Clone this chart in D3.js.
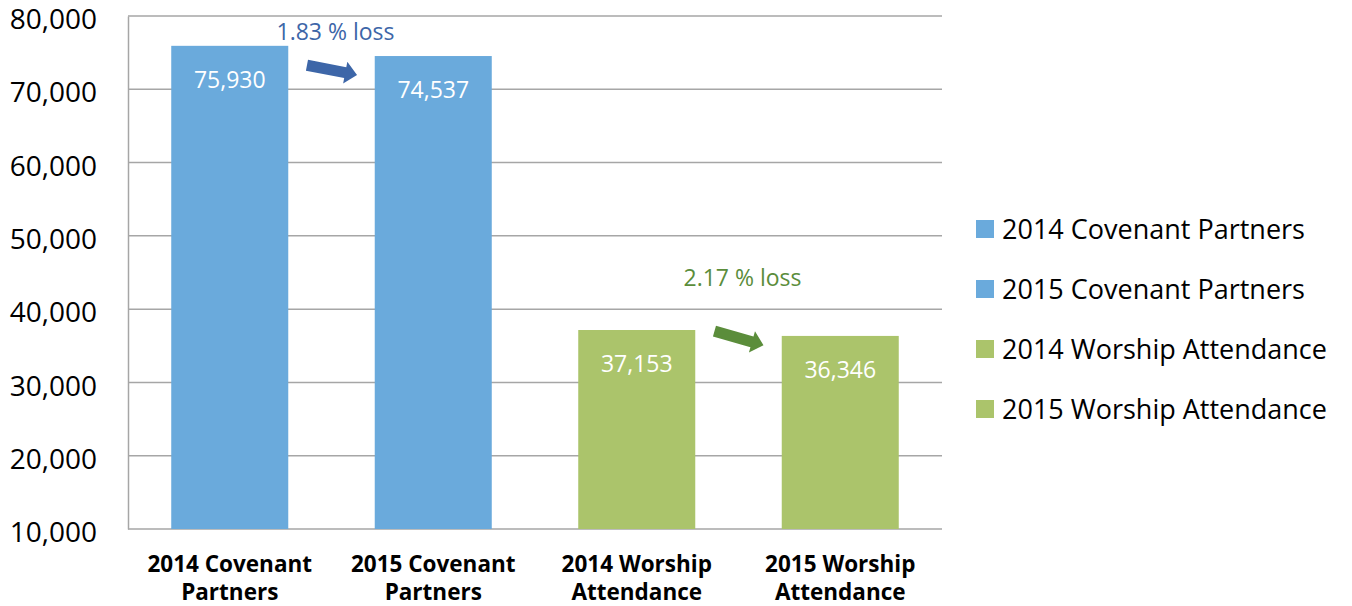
<!DOCTYPE html>
<html>
<head>
<meta charset="utf-8">
<script src="https://cdn.jsdelivr.net/npm/d3@7"></script>
<style>
    body { margin: 0; background: #fff; }
    text { font-family: "Open Sans", sans-serif; }
</style>
</head>
<body>
<div class="svg"></div>
<script>
// data
var categories = ['2014 Covenant Partners', '2015 Covenant Partners', '2014 Worship Attendance', '2015 Worship Attendance'];
var axisLines = [['2014 Covenant', 'Partners'], ['2015 Covenant', 'Partners'], ['2014 Worship', 'Attendance'], ['2015 Worship', 'Attendance']];
var values = [75930, 74537, 37153, 36346];
var barGroup = ['covenant', 'covenant', 'worship', 'worship'];
var yTicks = [10000, 20000, 30000, 40000, 50000, 60000, 70000, 80000];
var notes = [
    { text: '1.83 % loss', from: 0, to: 1, group: 'covenant' },
    { text: '2.17 % loss', from: 2, to: 3, group: 'worship' }
];

var chart = (function chart() {
    var width = 1352,
        height = 606;

    var fill = { covenant: '#6aaadc', worship: '#abc46b' };
    var noteColor = { covenant: '#3d66a8', worship: '#5b8d3b' };

    var svg = d3.select('div.svg')
        .append('svg')
        .attr('width', width)
        .attr('height', height);

    var x = d3.scaleBand()
        .domain(categories)
        .range([128, 942])
        .paddingInner(0.425)
        .paddingOuter(0.2125);

    var y = d3.scaleLinear()
        .domain([10000, 80000])
        .range([529, 16]);

    // gridlines
    svg.append('g')
        .selectAll('line')
        .data(yTicks.slice(1))
        .enter()
        .append('line')
        .attr('x1', 128)
        .attr('x2', 942)
        .attr('y1', d => y(d))
        .attr('y2', d => y(d))
        .attr('stroke', '#a6a6a6')
        .attr('stroke-width', 1.5);

    // y axis
    var yAxis = svg.append('g')
        .attr('transform', 'translate(128,0)')
        .call(d3.axisLeft(y).tickValues(yTicks).tickFormat(d3.format(',')).tickSize(0).tickPadding(31));
    yAxis.select('.domain').attr('stroke', '#a6a6a6').attr('stroke-width', 1.5);
    yAxis.selectAll('text')
        .attr('font-size', '28px')
        .attr('fill', '#000')
        .attr('dy', '0.45em')
        .style('font-family', '"Open Sans", sans-serif');

    // bottom line
    svg.append('line')
        .attr('x1', 128)
        .attr('x2', 942)
        .attr('y1', y(10000))
        .attr('y2', y(10000))
        .attr('stroke', '#a6a6a6')
        .attr('stroke-width', 1.5);

    // bars
    svg.append('g')
        .selectAll('rect')
        .data(values)
        .enter()
        .append('rect')
        .attr('x', (d, i) => x(categories[i]))
        .attr('y', d => y(d))
        .attr('width', x.bandwidth())
        .attr('height', d => y(10000) - y(d))
        .attr('fill', (d, i) => fill[barGroup[i]]);

    // value labels
    svg.append('g')
        .selectAll('text')
        .data(values)
        .enter()
        .append('text')
        .attr('x', (d, i) => x(categories[i]) + x.bandwidth() / 2)
        .attr('y', d => y(d) + 34)
        .attr('dy', '0.35em')
        .attr('text-anchor', 'middle')
        .attr('font-size', '23px')
        .attr('fill', '#fff')
        .text(d => d3.format(',')(d));

    // x labels
    var xl = svg.append('g')
        .selectAll('text')
        .data(axisLines)
        .enter()
        .append('text')
        .attr('text-anchor', 'middle')
        .attr('font-size', '22.5px')
        .attr('font-weight', 'bold')
        .attr('fill', '#000');
    xl.append('tspan')
        .attr('x', (d, i) => x(categories[i]) + x.bandwidth() / 2)
        .attr('y', 572)
        .text(d => d[0]);
    xl.append('tspan')
        .attr('x', (d, i) => x(categories[i]) + x.bandwidth() / 2)
        .attr('y', 600)
        .text(d => d[1]);

    // loss notes + arrows
    notes.forEach(function (n) {
        var x0 = x(categories[n.from]) + x.bandwidth(),
            x1 = x(categories[n.to]),
            cx = (x0 + x1) / 2;
        var a = n.group == 'covenant' ? 11 : 16;
        var ty = n.group == 'covenant' ? 32 : 278;
        var ay = n.group == 'covenant' ? 70 : 338;
        svg.append('text')
            .attr('x', cx + 4)
            .attr('y', ty)
            .attr('dy', '0.35em')
            .attr('text-anchor', 'middle')
            .attr('font-size', '23px')
            .attr('fill', noteColor[n.group])
            .text(n.text);
        svg.append('path')
            .attr('d', 'M-25,-5.5 L14,-5.5 L14,-11 L26,0 L14,11 L14,5.5 L-25,5.5 Z')
            .attr('transform', 'translate(' + cx + ',' + ay + ') rotate(' + a + ')')
            .attr('fill', noteColor[n.group]);
    });

    // legend
    var legend = svg.append('g')
        .selectAll('g')
        .data(categories)
        .enter()
        .append('g')
        .attr('transform', (d, i) => 'translate(976,' + (229 + i * 60) + ')');
    legend.append('rect')
        .attr('x', 0)
        .attr('y', -9)
        .attr('width', 18)
        .attr('height', 18)
        .attr('fill', (d, i) => fill[barGroup[i]]);
    legend.append('text')
        .attr('x', 26)
        .attr('y', 0)
        .attr('dy', '0.36em')
        .attr('font-size', '27px')
        .attr('fill', '#000')
        .text(d => d);
})();
</script>
</body>
</html>
